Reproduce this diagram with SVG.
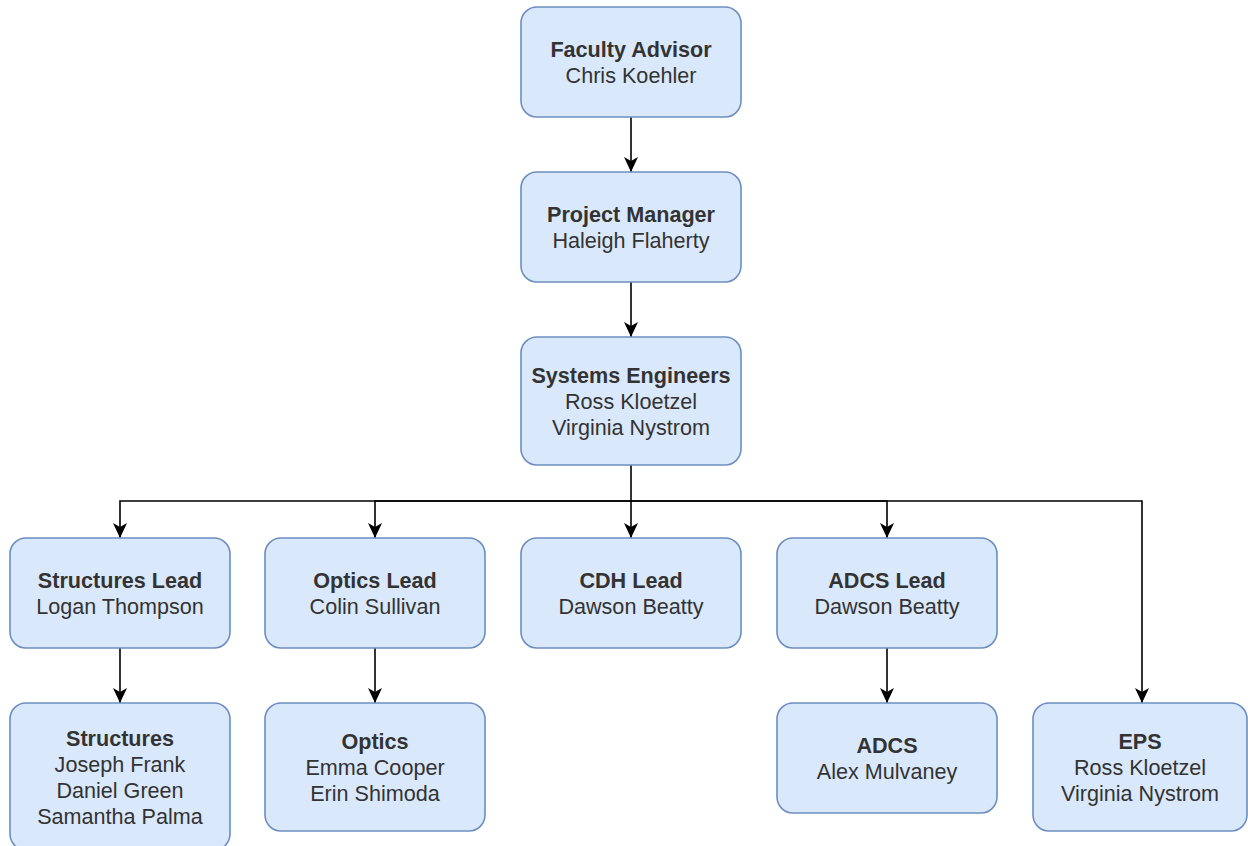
<svg xmlns="http://www.w3.org/2000/svg" width="1248" height="846" viewBox="0 0 1248 846">
<style>
.box{fill:#dae8fc;stroke:#6c8ebf;stroke-width:1.6}
text{font-family:"Liberation Sans",Arial,sans-serif;font-size:21.6px;fill:#333333;text-anchor:middle}
.b{font-weight:bold}
.edge{fill:none;stroke:#000000;stroke-width:1.6}
</style>
<defs>
<marker id="arr" viewBox="0 0 15 14" refX="15" refY="7" markerWidth="15" markerHeight="14" markerUnits="userSpaceOnUse" orient="auto">
<path d="M0,0 L15,7 L0,14 L4,7 Z" fill="#000000"/>
</marker>
</defs>
<rect width="1248" height="846" fill="#ffffff"/>
<g id="connectors">
<path class="edge" marker-end="url(#arr)" d="M631,117 L631,172"/>
<path class="edge" marker-end="url(#arr)" d="M631,282 L631,337"/>
<path class="edge" marker-end="url(#arr)" d="M631,465 L631,538"/>
<path class="edge" marker-end="url(#arr)" d="M631,501 L120,501 L120,538"/>
<path class="edge" marker-end="url(#arr)" d="M631,501 L375,501 L375,538"/>
<path class="edge" marker-end="url(#arr)" d="M631,501 L887,501 L887,538"/>
<path class="edge" marker-end="url(#arr)" d="M631,501 L1142,501 L1142,703"/>
<path class="edge" marker-end="url(#arr)" d="M120,648 L120,703"/>
<path class="edge" marker-end="url(#arr)" d="M375,648 L375,703"/>
<path class="edge" marker-end="url(#arr)" d="M887,648 L887,703"/>
</g>
<g id="faculty-advisor">
<rect class="box" x="521" y="7" width="220" height="110" rx="16"/>
<text x="631" y="57" class="b">Faculty Advisor</text>
<text x="631" y="83">Chris Koehler</text>
</g>
<g id="project-manager">
<rect class="box" x="521" y="172" width="220" height="110" rx="16"/>
<text x="631" y="222" class="b">Project Manager</text>
<text x="631" y="248">Haleigh Flaherty</text>
</g>
<g id="systems-engineers">
<rect class="box" x="521" y="337" width="220" height="128" rx="16"/>
<text x="631" y="383" class="b">Systems Engineers</text>
<text x="631" y="409">Ross Kloetzel</text>
<text x="631" y="435">Virginia Nystrom</text>
</g>
<g id="structures-lead">
<rect class="box" x="10" y="538" width="220" height="110" rx="16"/>
<text x="120" y="588" class="b">Structures Lead</text>
<text x="120" y="614">Logan Thompson</text>
</g>
<g id="optics-lead">
<rect class="box" x="265" y="538" width="220" height="110" rx="16"/>
<text x="375" y="588" class="b">Optics Lead</text>
<text x="375" y="614">Colin Sullivan</text>
</g>
<g id="cdh-lead">
<rect class="box" x="521" y="538" width="220" height="110" rx="16"/>
<text x="631" y="588" class="b">CDH Lead</text>
<text x="631" y="614">Dawson Beatty</text>
</g>
<g id="adcs-lead">
<rect class="box" x="777" y="538" width="220" height="110" rx="16"/>
<text x="887" y="588" class="b">ADCS Lead</text>
<text x="887" y="614">Dawson Beatty</text>
</g>
<g id="structures">
<rect class="box" x="10" y="703" width="220" height="147" rx="16"/>
<text x="120" y="746" class="b">Structures</text>
<text x="120" y="772">Joseph Frank</text>
<text x="120" y="798">Daniel Green</text>
<text x="120" y="824">Samantha Palma</text>
</g>
<g id="optics">
<rect class="box" x="265" y="703" width="220" height="128" rx="16"/>
<text x="375" y="749" class="b">Optics</text>
<text x="375" y="775">Emma Cooper</text>
<text x="375" y="801">Erin Shimoda</text>
</g>
<g id="adcs">
<rect class="box" x="777" y="703" width="220" height="110" rx="16"/>
<text x="887" y="753" class="b">ADCS</text>
<text x="887" y="779">Alex Mulvaney</text>
</g>
<g id="eps">
<rect class="box" x="1033" y="703" width="214" height="128" rx="16"/>
<text x="1140" y="749" class="b">EPS</text>
<text x="1140" y="775">Ross Kloetzel</text>
<text x="1140" y="801">Virginia Nystrom</text>
</g>
</svg>
